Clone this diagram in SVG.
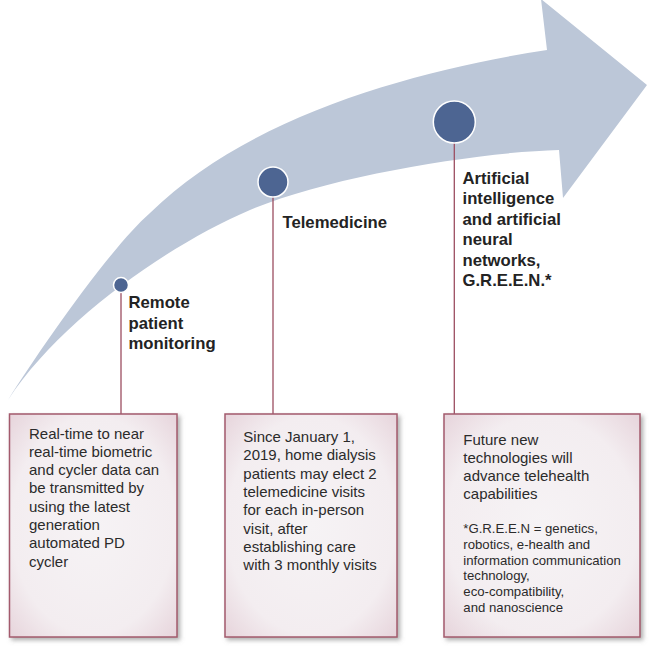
<svg xmlns="http://www.w3.org/2000/svg" width="653" height="646" viewBox="0 0 653 646">
  <defs>
    <style>
      .lbl { font-family: "Liberation Sans", Arial, sans-serif; font-weight: bold; font-size: 16.7px; fill: #232323; }
      .body { font-family: "Liberation Sans", Arial, sans-serif; font-size: 15px; fill: #2b2b2b; }
      .foot { font-family: "Liberation Sans", Arial, sans-serif; font-size: 13.2px; fill: #2b2b2b; }
      .dot { fill: #4d6592; stroke: #ffffff; stroke-width: 1.5; }
      .conn { stroke: #9b4d60; stroke-width: 1.3; fill: none; }
      .box { fill: url(#boxGrad); stroke: #a35a6c; stroke-width: 1.5; filter: url(#shadow); }
    </style>
    <radialGradient id="boxGrad" cx="50%" cy="50%" r="75%">
      <stop offset="0%" stop-color="#f6f3f5"/>
      <stop offset="65%" stop-color="#f3edf0"/>
      <stop offset="100%" stop-color="#e4cfd7"/>
    </radialGradient>
    <filter id="shadow" x="-10%" y="-10%" width="125%" height="125%">
      <feDropShadow dx="2.5" dy="2.5" stdDeviation="2" flood-color="#6e6e6e" flood-opacity="0.55"/>
    </filter>
  </defs>
  <rect width="653" height="646" fill="#ffffff"/>

  <!-- big curved arrow -->
  <path id="arrow" d="M 8 400 C 38 352, 110 248, 150 213 C 250 115, 417 70, 547 50 L 541 -1 L 647 85 L 563 198 L 559 150 C 480 152, 330 176, 250 210 C 170 244, 60 320, 8 400 Z" fill="#bcc7d8"/>

  <g id="connectors">
    <line class="conn" x1="121" y1="285" x2="121" y2="414"/>
    <line class="conn" x1="273" y1="182" x2="273" y2="414"/>
    <line class="conn" x1="454.3" y1="122" x2="454.3" y2="414"/>
  </g>

  <g id="node-remote">
    <circle class="dot" cx="121" cy="285" r="7.5"/>
    <text class="lbl"><tspan x="128.5" y="308">Remote</tspan><tspan x="128.5" y="328.5">patient</tspan><tspan x="128.5" y="348.5">monitoring</tspan></text>
  </g>

  <g id="node-telemedicine">
    <circle class="dot" cx="273" cy="182" r="15"/>
    <text class="lbl" x="282.5" y="228">Telemedicine</text>
  </g>

  <g id="node-ai">
    <circle class="dot" cx="454.3" cy="122" r="21"/>
    <text class="lbl"><tspan x="462.5" y="183.5">Artificial</tspan><tspan x="462.5" y="204">intelligence</tspan><tspan x="462.5" y="224.5">and artificial</tspan><tspan x="462.5" y="245">neural</tspan><tspan x="462.5" y="265.5">networks,</tspan><tspan x="462.5" y="286">G.R.E.E.N.*</tspan></text>
  </g>

  <g id="box-remote">
    <rect class="box" x="9.5" y="414" width="167.5" height="223"/>
    <text class="body"><tspan x="29" y="438.5">Real-time to near</tspan><tspan x="29" y="456.8">real-time biometric</tspan><tspan x="29" y="475.1">and cycler data can</tspan><tspan x="29" y="493.4">be transmitted by</tspan><tspan x="29" y="511.7">using the latest</tspan><tspan x="29" y="530">generation</tspan><tspan x="29" y="548.3">automated PD</tspan><tspan x="29" y="566.6">cycler</tspan></text>
  </g>

  <g id="box-telemedicine">
    <rect class="box" x="225" y="414" width="172" height="223"/>
    <text class="body"><tspan x="243.3" y="442">Since January 1,</tspan><tspan x="243.3" y="460.3">2019, home dialysis</tspan><tspan x="243.3" y="478.6">patients may elect 2</tspan><tspan x="243.3" y="496.9">telemedicine visits</tspan><tspan x="243.3" y="515.2">for each in-person</tspan><tspan x="243.3" y="533.5">visit, after</tspan><tspan x="243.3" y="551.8">establishing care</tspan><tspan x="243.3" y="570.1">with 3 monthly visits</tspan></text>
  </g>

  <g id="box-ai">
    <rect class="box" x="444" y="414" width="196" height="223"/>
    <text class="body"><tspan x="463.3" y="444.5">Future new</tspan><tspan x="463.3" y="462.8">technologies will</tspan><tspan x="463.3" y="481.1">advance telehealth</tspan><tspan x="463.3" y="499.4">capabilities</tspan></text>
    <text class="foot"><tspan x="463.3" y="533">*G.R.E.E.N = genetics,</tspan><tspan x="463.3" y="548.8">robotics, e-health and</tspan><tspan x="463.3" y="564.6">information communication</tspan><tspan x="463.3" y="580.4">technology,</tspan><tspan x="463.3" y="596.2">eco-compatibility,</tspan><tspan x="463.3" y="612">and nanoscience</tspan></text>
  </g>
</svg>
